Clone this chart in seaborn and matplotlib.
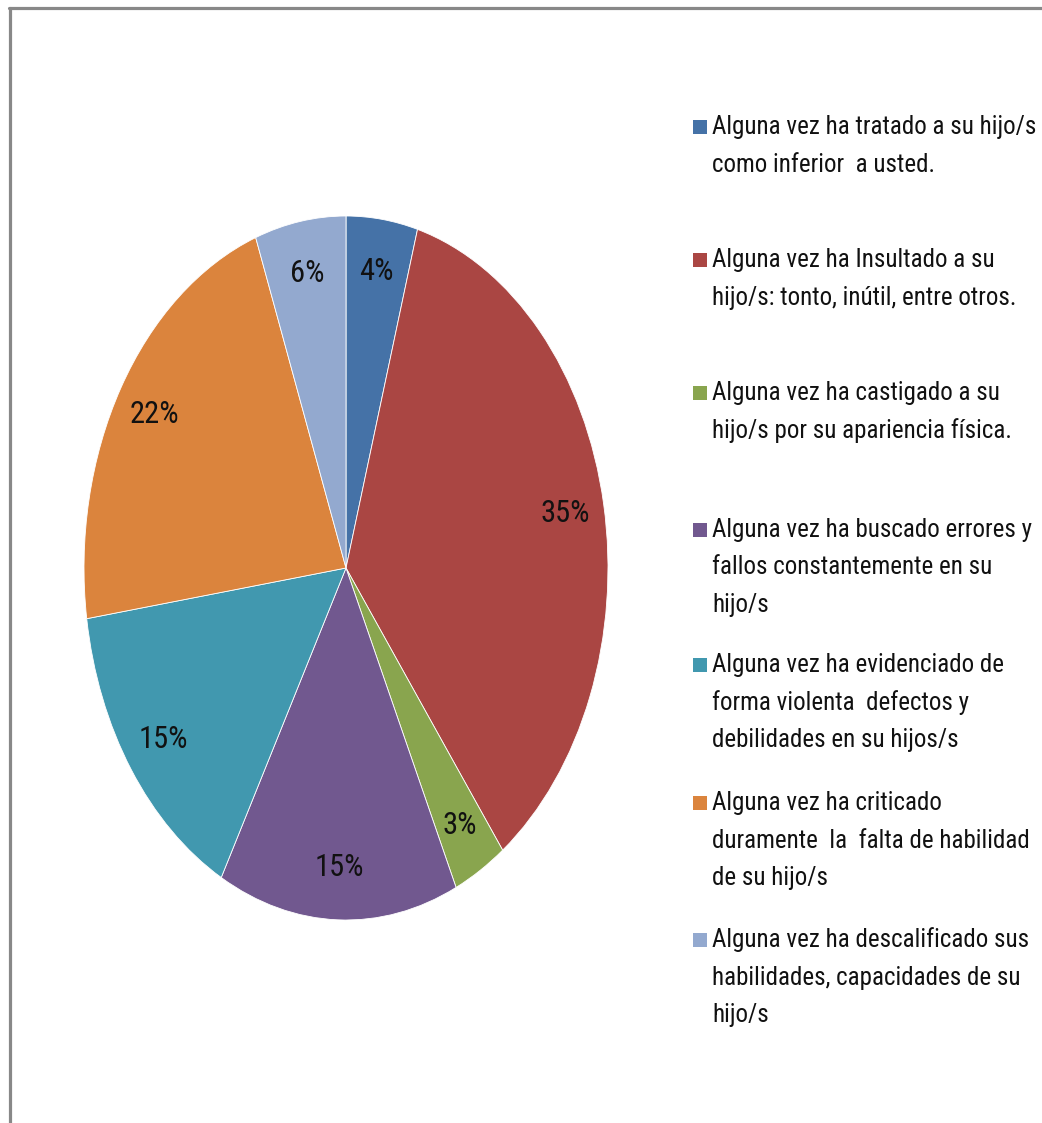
import matplotlib
matplotlib.use("Agg")
import matplotlib.pyplot as plt
from matplotlib import font_manager
from matplotlib.font_manager import FontProperties
from matplotlib.patches import Rectangle
from matplotlib.lines import Line2D
import seaborn as sns

categories = [
    "Alguna vez ha tratado a su hijo/s\ncomo inferior  a usted.",
    "Alguna vez ha Insultado a su\nhijo/s: tonto, inútil, entre otros.",
    "Alguna vez ha castigado a su\nhijo/s por su apariencia física.",
    "Alguna vez ha buscado errores y\nfallos constantemente en su\nhijo/s",
    "Alguna vez ha evidenciado de\nforma violenta  defectos y\ndebilidades en su hijos/s",
    "Alguna vez ha criticado\nduramente  la  falta de habilidad\nde su hijo/s",
    "Alguna vez ha descalificado sus\nhabilidades, capacidades de su\nhijo/s",
]
values = [4.4, 35.4, 3.3, 14.8, 14.8, 21.7, 5.6]
colors = ["#4572A7", "#AA4643", "#89A54E", "#71588F", "#4198AF", "#DB843D", "#93A9CF"]

sns.set_theme(style="white")


def pick_font():
    entries = font_manager.fontManager.ttflist
    prefs = ["Liberation Sans Narrow", "Arial Narrow", "Roboto Condensed",
             "Open Sans Condensed", "Noto Sans Condensed", "DejaVu Sans Condensed"]
    bad = ("Bold", "Italic", "Light", "Thin", "Black", "Medium", "Semi", "Extra", "Oblique")
    for p in prefs:
        for f in entries:
            if f.name == p and f.weight in (400, "normal", "regular") and f.style == "normal" \
                    and not any(b in f.fname.split("/")[-1] for b in bad):
                return FontProperties(fname=f.fname)
    for f in entries:
        fn = f.fname.split("/")[-1]
        if ("Condensed" in fn or "Narrow" in fn) and not any(b in fn for b in bad):
            return FontProperties(fname=f.fname)
    return FontProperties(family="DejaVu Sans")


fp = pick_font()

W, H = 1042, 1123
fig = plt.figure(figsize=(W / 100, H / 100), dpi=100)
fig.patch.set_facecolor("white")
renderer = fig.canvas.get_renderer()

# size the legend font so the first line is ~323 px wide, as in the reference
probe = fig.text(0, 0, "Alguna vez ha tratado a su hijo/s", fontproperties=fp, fontsize=20)
wpx = probe.get_window_extent(renderer).width
probe.remove()
leg_size = min(20 * 323.0 / wpx, 21)
probe = fig.text(0, 0, "35%", fontproperties=fp, fontsize=20)
wpx2 = probe.get_window_extent(renderer).width
probe.remove()
pct_size = min(20 * 52.0 / wpx2, 22)

cx, cy, rx, ry = 346, 568, 262, 352
ax = fig.add_axes([(cx - rx) / W, (H - cy - ry) / H, 2 * rx / W, 2 * ry / H])
palette = sns.color_palette(colors)
wedges, texts, autotexts = ax.pie(
    values, colors=palette, startangle=90, counterclock=False,
    autopct="%.0f%%", pctdistance=0.85,
    wedgeprops=dict(edgecolor="white", linewidth=0.6),
)
for t in autotexts:
    t.set_fontproperties(fp)
    t.set_fontsize(pct_size)
    t.set_color("#111111")
ax.set_aspect("auto")
ax.set_xlim(-1, 1)
ax.set_ylim(-1, 1)
ax.axis("off")

# legend (manual layout)
tops = [127, 260, 393, 530, 665, 803, 940]
line_h = 37.5
for cat, col, y0 in zip(categories, colors, tops):
    fig.patches.append(Rectangle((693 / W, (H - y0 - 7) / H), 14 / W, 14 / H,
                                 transform=fig.transFigure, facecolor=col,
                                 edgecolor="none"))
    for i, line in enumerate(cat.split("\n")):
        fig.text(712 / W, (H - y0 - i * line_h) / H, line, fontproperties=fp,
                 fontsize=leg_size, va="center", ha="left", color="#111111")

# frame lines
fig.add_artist(Line2D([9 / W, 1.0], [(H - 8) / H, (H - 8) / H], transform=fig.transFigure,
                      color="#888888", linewidth=2.3))
fig.add_artist(Line2D([10 / W, 10 / W], [0, (H - 8) / H], transform=fig.transFigure,
                      color="#888888", linewidth=2.3))

fig.savefig("out.png", dpi=100, facecolor="white")
